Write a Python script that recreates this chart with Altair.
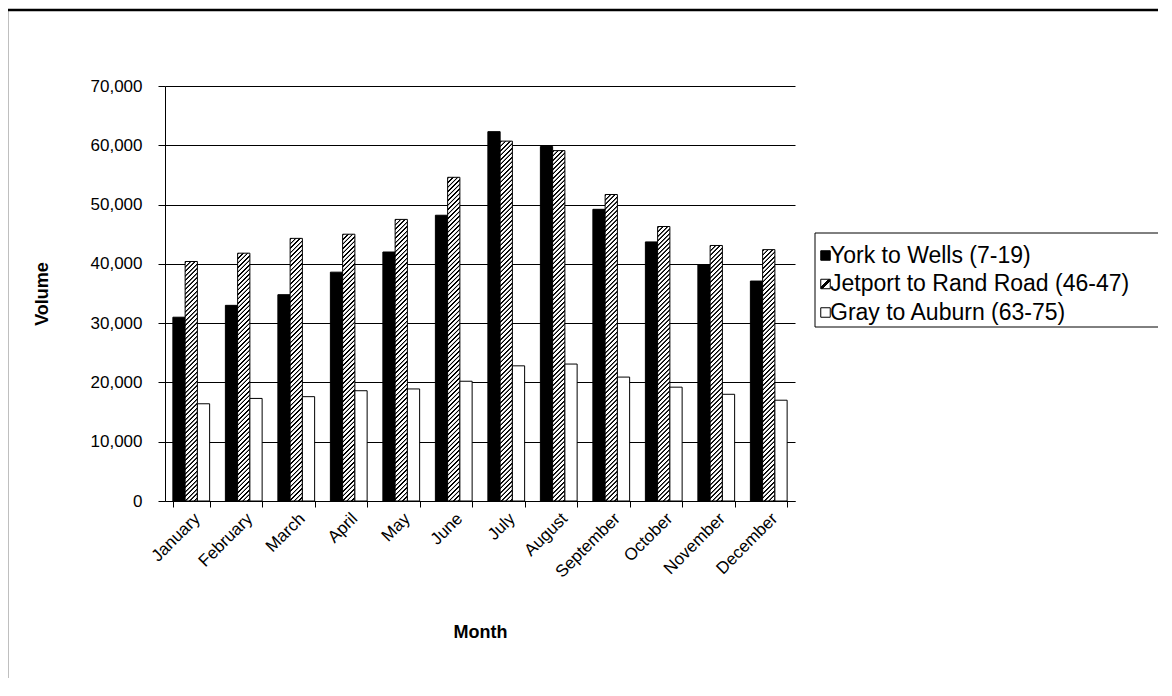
import altair as alt
import pandas as pd

months = ["January", "February", "March", "April", "May", "June", "July",
          "August", "September", "October", "November", "December"]
routes = ["York to Wells (7-19)", "Jetport to Rand Road (46-47)", "Gray to Auburn (63-75)"]
york = [31000, 33000, 34800, 38600, 42000, 48200, 62300, 59800, 49200, 43700, 39800, 37100]
jetport = [40400, 41800, 44300, 45000, 47500, 54600, 60700, 59100, 51700, 46300, 43100, 42400]
gray = [16400, 17300, 17600, 18600, 18900, 20200, 22800, 23100, 20900, 19200, 18000, 17000]

rows = []
for name, vals in zip(routes, [york, jetport, gray]):
    for m, v in zip(months, vals):
        rows.append({"Month": m, "Route": name, "Volume": v})
df = pd.DataFrame(rows)

FONT = "Liberation Sans"
W, H = 630, 415
YMAX = 70000
BW = W / 12 * 0.7 / 3  # bar width in px
K = H / YMAX           # px per unit
L = 400.0              # gradient span in px (X+Y)
P = 4.5                # hatch period
stops = []
s = 0.0
while s < L:
    a = s / L
    stops.append((a, "#fff"))
    stops.append((min((s + 0.5) / L, 1), "#000"))
    stops.append((min((s + 1.7) / L, 1), "#000"))
    stops.append((min((s + 2.2) / L, 1), "#fff"))
    s += P
stops_str = "[" + ",".join("{offset:%.5f,color:'%s'}" % (o, c) for o, c in stops) + "]"
hexpr = "(datum.Volume*%.6f)" % K
den = "(%.4f+pow(%s,2))" % (BW * BW, hexpr)
bar_grad = ("{gradient:'linear',x1:0,y1:0,x2:%.3f/%s,y2:%.3f*%s/%s,stops:%s}"
            % (L * BW, den, L, hexpr, den, stops_str))
legend_grad = ("{gradient:'linear',x1:0,y1:0,x2:1,y2:1,stops:["
               "{offset:0,color:'#fff'},{offset:0.38,color:'#fff'},{offset:0.42,color:'#000'},"
               "{offset:0.58,color:'#000'},{offset:0.62,color:'#fff'},{offset:1,color:'#fff'}]}")

fill_enc = {
    "field": "Route",
    "type": "nominal",
    "sort": routes,
    "scale": {"domain": routes, "range": ["#000000", {"expr": legend_grad}, "#ffffff"]},
    "legend": {
        "title": None, "orient": "none", "legendX": 649, "legendY": 158,
        "symbolType": "square", "symbolSize": 90, "symbolStrokeColor": "black",
        "symbolStrokeWidth": 1, "labelFontSize": 23, "labelFont": FONT,
        "labelColor": "black", "rowPadding": 4.5, "labelOffset": {"expr": "-7"},
        "padding": 0, "labelLimit": 0,
    },
    "condition": {"test": "datum.Route === '%s'" % routes[1], "value": {"expr": bar_grad}},
}

bars = alt.Chart(df).mark_bar(stroke="black", strokeWidth=1).encode(
    x=alt.X("Month:N", sort=months,
            scale=alt.Scale(paddingInner=0.3, paddingOuter=0.15),
            axis=alt.Axis(title="Month", labelAngle=-45, labelAlign="right",
                          labelBaseline="top", tickBand="extent", tickSize=6,
                          labelPadding=3, labelFontSize=17, titleFontSize=18,
                          titleY=131, titleBaseline="middle", grid=False)),
    xOffset=alt.XOffset("Route:N", sort=routes,
                        scale=alt.Scale(paddingInner=0, paddingOuter=0)),
    y=alt.Y("Volume:Q", scale=alt.Scale(domain=[0, YMAX], nice=False),
            axis=alt.Axis(title="Volume", values=list(range(0, YMAX + 1, 10000)),
                          format=",d", tickSize=7, labelPadding=16, labelFontSize=17,
                          titleFontSize=18, titleX=-123, titleY=H / 2,
                          titleBaseline="middle", grid=True)),
    fill=fill_enc,
)

one = pd.DataFrame({"a": [0]})
top_rule = alt.Chart(one).mark_rule(color="black", strokeWidth=2.5).encode(
    x=alt.value(-158), x2=alt.value(1000), y=alt.value(-76))
left_rule = alt.Chart(one).mark_rule(color="black", strokeWidth=2.5).encode(
    x=alt.value(-158), y=alt.value(-77), y2=alt.value(600))
legend_box = alt.Chart(one).mark_rect(fill="white", stroke="black", strokeWidth=1).encode(
    x=alt.value(650), x2=alt.value(1010), y=alt.value(147), y2=alt.value(241))

chart = alt.layer(legend_box, bars, top_rule, left_rule).properties(
    width=W, height=H,
    autosize=alt.AutoSizeParams(type="none"),
    padding={"left": 157, "top": 78, "right": 363, "bottom": 177},
).configure_view(stroke=None).configure_axis(
    labelFont=FONT, titleFont=FONT, labelColor="black", titleColor="black",
    domainColor="black", tickColor="black", gridColor="black", gridOpacity=1,
    titleFontWeight="bold", domainWidth=1, tickWidth=1, gridWidth=1,
)

chart.save("out.html", embed_options={"renderer": "svg", "actions": False})
